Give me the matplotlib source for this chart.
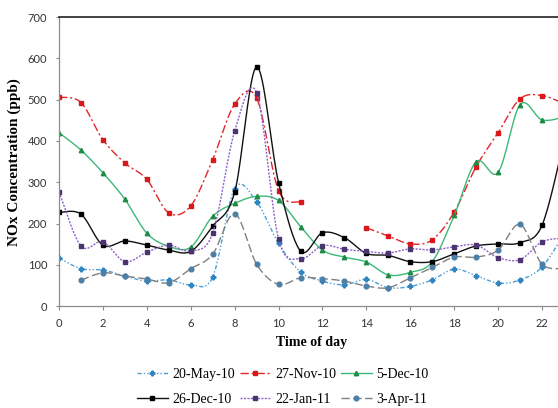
import matplotlib
matplotlib.use("Agg")
import matplotlib.pyplot as plt
import numpy as np

nan = np.nan

# hour of day
hours = np.arange(24)

# NOx concentration (ppb)
may_20_10 = [117, 91, 88, 73, 61, 64, 52, 71, 285, 253, 152, 83,
             61, 52, 65, 45, 48, 64, 90, 74, 56, 64, 95, 175]
nov_27_10 = [506, 493, 403, 347, 307, 226, 243, 355, 489, 504, 280, 252,
             nan, nan, 190, 170, 151, 161, 228, 338, 420, 502, 510, 490]
dec_5_10 = [420, 378, 323, 259, 177, 145, 143, 218, 249, 266, 256, 193,
            136, 119, 107, 76, 82, 108, 220, 350, 324, 488, 451, 458]
dec_26_10 = [227, 223, 148, 158, 148, 136, 133, 194, 276, 579, 299, 134,
             178, 166, 128, 123, 108, 108, 127, 146, 151, 154, 196, 400]
jan_22_11 = [277, 146, 156, 108, 131, 148, 134, 177, 424, 517, 163, 115,
             147, 138, 133, 129, 139, 136, 144, 148, 118, 113, 156, 165]
apr_3_11 = [nan, 63, 81, 73, 66, 57, 91, 126, 224, 102, 53, 69,
            67, 61, 49, 45, 69, 94, 119, 119, 136, 198, 102, 92]

labels = ["20-May-10", "27-Nov-10", "5-Dec-10", "26-Dec-10", "22-Jan-11", "3-Apr-11"]
series = [may_20_10, nov_27_10, dec_5_10, dec_26_10, jan_22_11, apr_3_11]

# line colour, marker colour, linestyle, marker, marker size
styles = [
    ("#4a9fd5", "#2f86c2", (0, (3, 1.5, 1, 1.5, 1, 1.5)), "P", 3.4),
    ("#e0262b", "#d7191c", (0, (6, 2, 1.5, 2)), "s", 3.3),
    ("#3cb878", "#1e8c45", "-", "^", 3.2),
    ("#111111", "#000000", "-", "s", 2.8),
    ("#8e63c9", "#4b3470", (0, (1.5, 1)), "s", 3.1),
    ("#808080", "#4d7fa6", (0, (6, 2.5)), "o", 3.4),
]


def smooth(x, y, n=20):
    # Excel style smoothed line (Catmull-Rom) through each unbroken run of points
    x = np.asarray(x, float)
    y = np.asarray(y, float)
    runs = []
    ok = ~np.isnan(y)
    i = 0
    while i < len(y):
        if ok[i]:
            j = i
            while j < len(y) and ok[j]:
                j += 1
            runs.append((x[i:j], y[i:j]))
            i = j
        else:
            i += 1
    out = []
    for xs, ys in runs:
        if len(xs) < 2:
            continue
        px = np.concatenate([[xs[0]], xs, [xs[-1]]])
        py = np.concatenate([[ys[0]], ys, [ys[-1]]])
        cx, cy = [], []
        t = np.linspace(0, 1, n)
        for k in range(1, len(px) - 2):
            m0x = (px[k + 1] - px[k - 1]) / 2
            m1x = (px[k + 2] - px[k]) / 2
            m0y = (py[k + 1] - py[k - 1]) / 2
            m1y = (py[k + 2] - py[k]) / 2
            h00 = 2 * t**3 - 3 * t**2 + 1
            h10 = t**3 - 2 * t**2 + t
            h01 = -2 * t**3 + 3 * t**2
            h11 = t**3 - t**2
            cx.append(h00 * px[k] + h10 * m0x + h01 * px[k + 1] + h11 * m1x)
            cy.append(h00 * py[k] + h10 * m0y + h01 * py[k + 1] + h11 * m1y)
        out.append((np.concatenate(cx), np.concatenate(cy)))
    return out


fig = plt.figure(figsize=(5.58, 4.08), dpi=100)
ax = fig.add_axes([59 / 558, 101.7 / 408, 505 / 558, 289.3 / 408])

handles = []
for lab, ys, (lc, mc, ls, mk, ms) in zip(labels, series, styles):
    for cx, cy in smooth(hours, ys):
        ax.plot(cx, cy, color=lc, ls=ls, lw=1.0, clip_on=True)
    ax.plot(hours, ys, ls="none", marker=mk, ms=ms, color=mc, mec=mc, clip_on=True)
    h, = ax.plot([], [], color=lc, ls=ls, lw=1.0, marker=mk, ms=ms, mfc=mc, mec=mc)
    handles.append((h, lab))

ax.set_xlim(0, 23)
ax.set_ylim(0, 700)
ax.set_xticks(np.arange(0, 24, 2))
ax.set_yticks(np.arange(0, 701, 100))

for s in ["left", "bottom"]:
    ax.spines[s].set_color("#8c8c8c")
    ax.spines[s].set_linewidth(0.9)
ax.spines["top"].set_color("#222222")
ax.spines["top"].set_linewidth(1.2)
ax.spines["right"].set_visible(False)

ax.tick_params(axis="x", direction="out", length=3, width=0.8, color="#8c8c8c",
               pad=5.5, labelsize=8, labelcolor="#333333")
ax.tick_params(axis="y", direction="out", length=2.5, width=0.8, color="#8c8c8c",
               pad=6, labelsize=8, labelcolor="#333333")
for t in ax.get_xticklabels() + ax.get_yticklabels():
    t.set_fontfamily("Lato")

ax.set_xlabel("Time of day", family="Liberation Serif", weight="bold", fontsize=10, labelpad=5)
ax.set_ylabel("NOx Concentration (ppb)", family="Liberation Serif", weight="bold",
              fontsize=11, labelpad=5)

# legend filled row by row (3 columns)
order = [0, 3, 1, 4, 2, 5]
fig.legend([handles[i][0] for i in order], [handles[i][1] for i in order],
           ncol=3, loc="upper left", bbox_to_anchor=(137 / 558, 1 - 368 / 408),
           frameon=False, prop={"family": "Liberation Serif", "size": 10},
           handlelength=2.2, handletextpad=0.35, columnspacing=0.35,
           labelspacing=0.85, borderpad=0, borderaxespad=0)

fig.savefig("out.png", dpi=100)
